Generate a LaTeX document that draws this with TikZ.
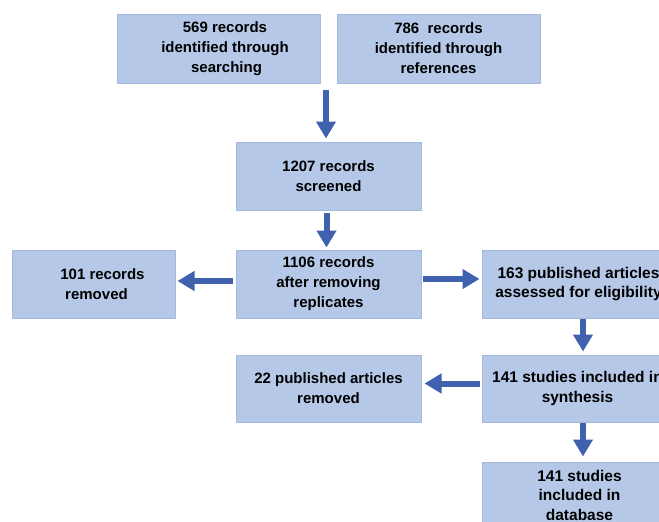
\documentclass[tikz,border=0pt]{standalone}
\usepackage{fontspec}
\setmainfont{Liberation Sans}
\usetikzlibrary{arrows.meta,calc}
\definecolor{boxfill}{RGB}{182,200,232}
\definecolor{boxline}{RGB}{165,185,222}
\definecolor{arrowc}{RGB}{64,98,174}
\tikzset{
  box/.style={draw=boxline, line width=1pt, fill=boxfill, align=center,
    font=\fontsize{15}{20}\selectfont\bfseries, inner sep=0pt, anchor=center},
  bigbox/.style={box, font=\fontsize{15.5}{19.5}\selectfont\bfseries},
  flow/.style={draw=arrowc, line width=6pt, -{Triangle[length=17pt,width=19pt]}}
}
\begin{document}
\begin{tikzpicture}[x=1pt,y=-1pt]
\useasboundingbox (0,0) rectangle (659,522);
\clip (0,0) rectangle (659,522);
\fill[white] (0,0) rectangle (659,522);
\node[box, minimum width=203pt, minimum height=69pt] (A) at (218.5,48.5) {\hspace*{13pt}569 records\\\hspace*{13pt}identified through\\\hspace*{16pt}searching};
\node[box, minimum width=203pt, minimum height=69pt] (B) at (438.5,48.5) {786\ \ records\\identified through\\references};
\node[box, minimum width=185pt, minimum height=68pt] (C) at (328.5,176) {1207 records\\screened};
\node[box, minimum width=163pt, minimum height=68pt] (D) at (93.5,284) {\hspace*{18pt}101 records\\\hspace*{6pt}removed};
\node[box, minimum width=185pt, minimum height=68pt] (E) at (328.5,284) {1106 records\\after removing\\replicates};
\node[bigbox, minimum width=193pt, minimum height=68pt] (F) at (578.5,284) {163 published articles\\assessed for eligibility};
\node[box, minimum width=185pt, minimum height=67pt] (H) at (328.5,388.5) {22 published articles\\removed};
\node[bigbox, minimum width=193pt, minimum height=67pt] (G) at (578.5,388.5) {141 studies included in\hspace*{2pt}\\synthesis\hspace*{2pt}};
\node[bigbox, minimum width=193pt, minimum height=66pt] (I) at (578.5,495) {\hspace*{2pt}141 studies\\\hspace*{2pt}included in\\\hspace*{2pt}database};
\coordinate (ab) at ($(A.south east)!0.5!(B.south west)+(-2.5,6)$);
\draw[flow, shorten >=3pt] (ab) -- (ab |- C.north);
\draw[flow, shorten <=2pt, shorten >=2pt] ([xshift=-2pt]C.south) -- ([xshift=-2pt]E.north);
\draw[flow, shorten <=3pt, shorten >=2pt] ([yshift=3pt]E.west) -- ([yshift=3pt]D.east);
\draw[flow, shorten <=1pt, shorten >=2pt] ([yshift=5pt]E.east) -- ([yshift=5pt]F.west);
\draw[flow, shorten >=3pt] ([xshift=4.5pt]F.south) -- ([xshift=4.5pt]F.south |- G.north);
\draw[flow, shorten <=2pt, shorten >=3pt] ([yshift=5pt]G.west) -- ([yshift=5pt]H.east);
\draw[flow, shorten >=5pt] ([xshift=4.5pt]G.south) -- ([xshift=4.5pt]G.south |- I.north);
\end{tikzpicture}
\end{document}
